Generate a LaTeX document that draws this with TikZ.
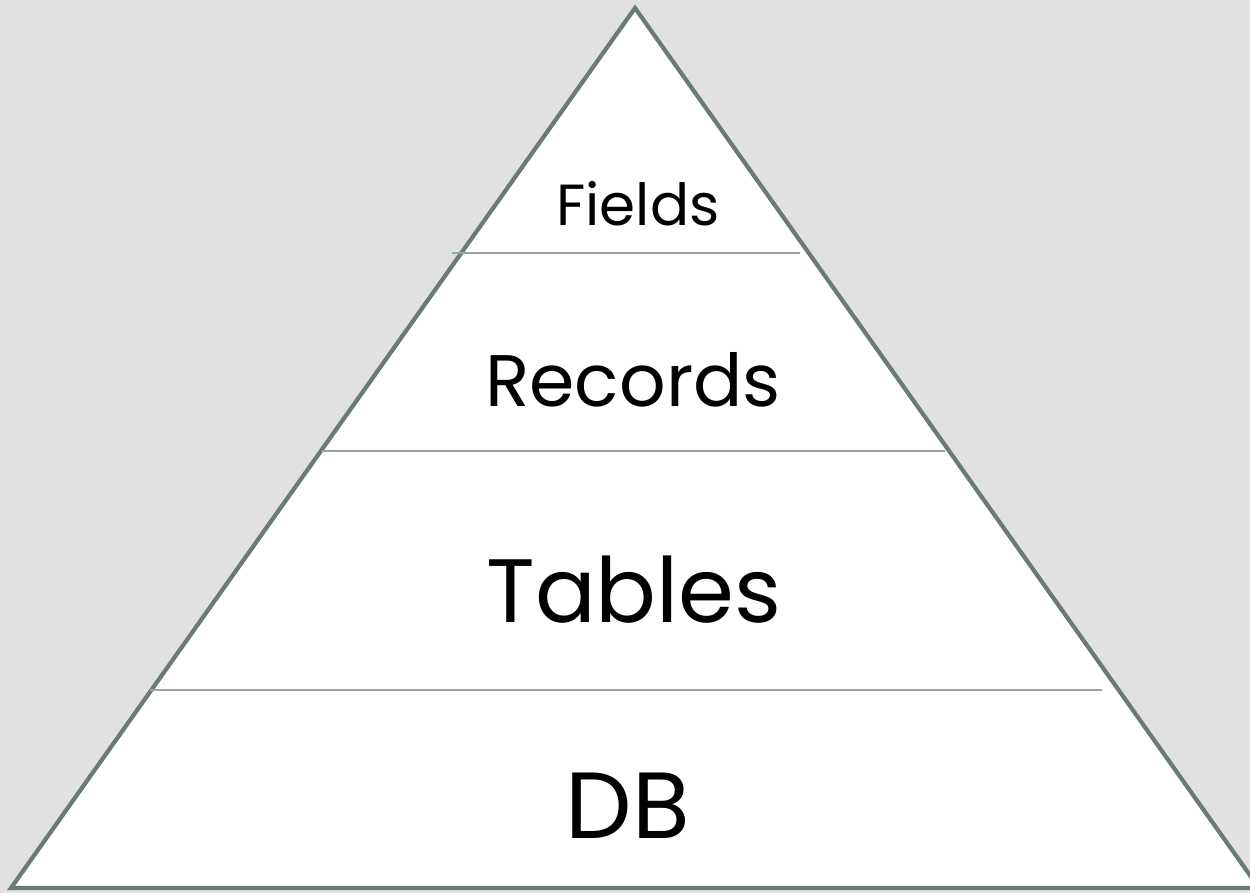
\documentclass[tikz,border=0pt]{standalone}
\usepackage{fontspec}
\setmainfont{Poppins}
\definecolor{bgc}{HTML}{E1E1E1}
\definecolor{edgec}{HTML}{6B7B73}
\definecolor{divc}{HTML}{96A49C}
\tikzset{
  outline/.style={draw=edgec, line width=4.2pt, fill=white, line join=miter},
  divider/.style={draw=divc, line width=2pt},
  lvl/.style={anchor=base, inner sep=0pt, text=black}
}
\begin{document}
\begin{tikzpicture}[x=1pt,y=-1pt]
\path[fill=bgc] (0,0) rectangle (1250,893);
\useasboundingbox (0,0) rectangle (1250,893);
\coordinate (apex) at (635,8);
\coordinate (bl) at (11,888);
\coordinate (br) at (1259,888);
\draw[outline] (apex) -- (bl) -- (br) -- cycle;
\coordinate (d1l) at (452,253); \coordinate (d1r) at (800,253);
\coordinate (d2l) at (322,451); \coordinate (d2r) at (945,451);
\coordinate (d3l) at (150,690); \coordinate (d3r) at (1102,690);
\draw[divider] (d1l) -- (d1r);
\draw[divider] (d2l) -- (d2r);
\draw[divider] (d3l) -- (d3r);
\node[lvl, font=\fontsize{58}{60}\selectfont] (fields) at (638,226) {Fields};
\node[lvl, font=\fontsize{73}{75}\selectfont] (records) at (633,406) {Records};
\node[lvl, font=\fontsize{90}{92}\selectfont] (tables) at (634,622) {Tables};
\node[lvl, font=\fontsize{94}{96}\selectfont] (db) at (628,838) {DB};
\end{tikzpicture}
\end{document}
